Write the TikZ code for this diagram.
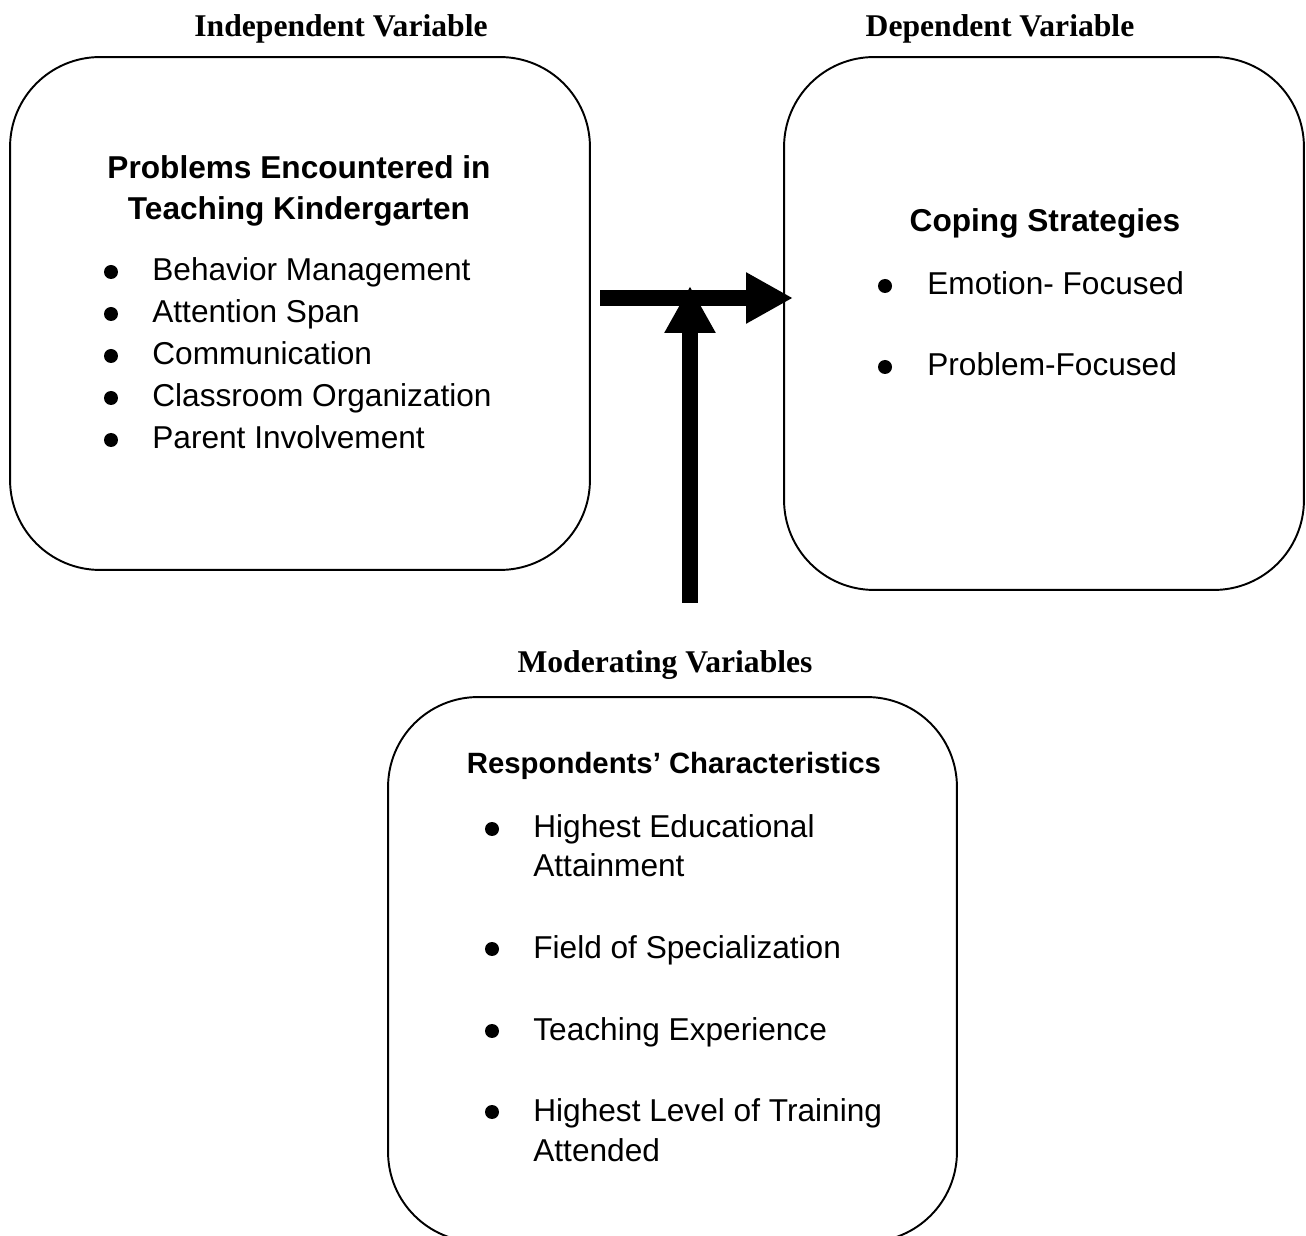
\documentclass[tikz,border=0pt]{standalone}
\usepackage{fontspec}
\setmainfont{Liberation Serif}
\setsansfont{Liberation Sans}
\usetikzlibrary{positioning, arrows.meta}

\begin{document}
\begin{tikzpicture}[x=0.02cm, y=-0.02cm,
    every node/.style={inner sep=0pt},
    vartitle/.style={font=\fontsize{18}{22}\selectfont\bfseries, anchor=base},
    varbox/.style={draw, line width=1.1pt, rounded corners=1.8cm},
    boxhead/.style={font=\sffamily\fontsize{18}{22}\selectfont\bfseries, anchor=base},
    entry/.style={font=\sffamily\fontsize{18}{22}\selectfont, anchor=base west},
    dot/.style={circle, fill, minimum size=0.28cm},
    bigarrow/.style={line width=0.32cm,
                     -{Triangle[length=0.94cm, width=0.96cm]}},
  ]
  \useasboundingbox (0,0) rectangle (1306,1236);

  % the three variable boxes
  \node[varbox, minimum width=11.6cm, minimum height=10.26cm] (ivbox) at (300,313.5) {};
  \node[varbox, minimum width=10.4cm, minimum height=10.66cm] (dvbox) at (1044,323.5) {};
  \node[varbox, minimum width=11.38cm, minimum height=10.9cm] (mvbox) at (672.5,969.5) {};

  % titles above the boxes
  \node[vartitle] (ivtitle) at (341,37) {Independent Variable};
  \node[vartitle] (dvtitle) at (1000,37) {Dependent Variable};
  \node[vartitle] (mvtitle) at (665,673) {Moderating Variables};

  % independent variable
  \node[boxhead] (ivhead1) at (299,179) {Problems Encountered in};
  \node[boxhead] (ivhead2) at (299,220) {Teaching Kindergarten};
  \node[dot] (ivdot1) at (111,272) {};
  \node[entry] (ivitem1) at (152,281) {Behavior Management};
  \node[dot] (ivdot2) at (111,314) {};
  \node[entry] (ivitem2) at (152,323) {Attention Span};
  \node[dot] (ivdot3) at (111,356) {};
  \node[entry] (ivitem3) at (152,365) {Communication};
  \node[dot] (ivdot4) at (111,398) {};
  \node[entry] (ivitem4) at (152,407) {Classroom Organization};
  \node[dot] (ivdot5) at (111,440) {};
  \node[entry] (ivitem5) at (152,449) {Parent Involvement};

  % dependent variable
  \node[boxhead] (dvhead) at (1045,232) {Coping Strategies};
  \node[dot] (dvdot1) at (885,286) {};
  \node[entry] (dvitem1) at (927,295) {Emotion- Focused};
  \node[dot] (dvdot2) at (885,367) {};
  \node[entry] (dvitem2) at (927,376) {Problem-Focused};

  % moderating variables
  \node[boxhead, font=\sffamily\fontsize{16.7}{20}\selectfont\bfseries] (mvhead) at (674,774) {Respondents’ Characteristics};
  \node[dot] (mvdot1) at (492,829) {};
  \node[entry] (mvitem1a) at (533,838) {Highest Educational};
  \node[entry] (mvitem1b) at (533,876) {Attainment};
  \node[dot] (mvdot2) at (492,949) {};
  \node[entry] (mvitem2) at (533,958) {Field of Specialization};
  \node[dot] (mvdot3) at (492,1031) {};
  \node[entry] (mvitem3) at (533,1040) {Teaching Experience};
  \node[dot] (mvdot4) at (492,1112) {};
  \node[entry] (mvitem4a) at (533,1121) {Highest Level of Training};
  \node[entry] (mvitem4b) at (533,1161) {Attended};

  % arrows
  \coordinate (hstart) at (600,298);
  \coordinate (hend) at (793,298);
  \coordinate (vstart) at (690,603);
  \coordinate (vend) at (690,286);
  \draw[bigarrow] (hstart) -- (hend);
  \draw[bigarrow] (vstart) -- (vend);
\end{tikzpicture}
\end{document}
